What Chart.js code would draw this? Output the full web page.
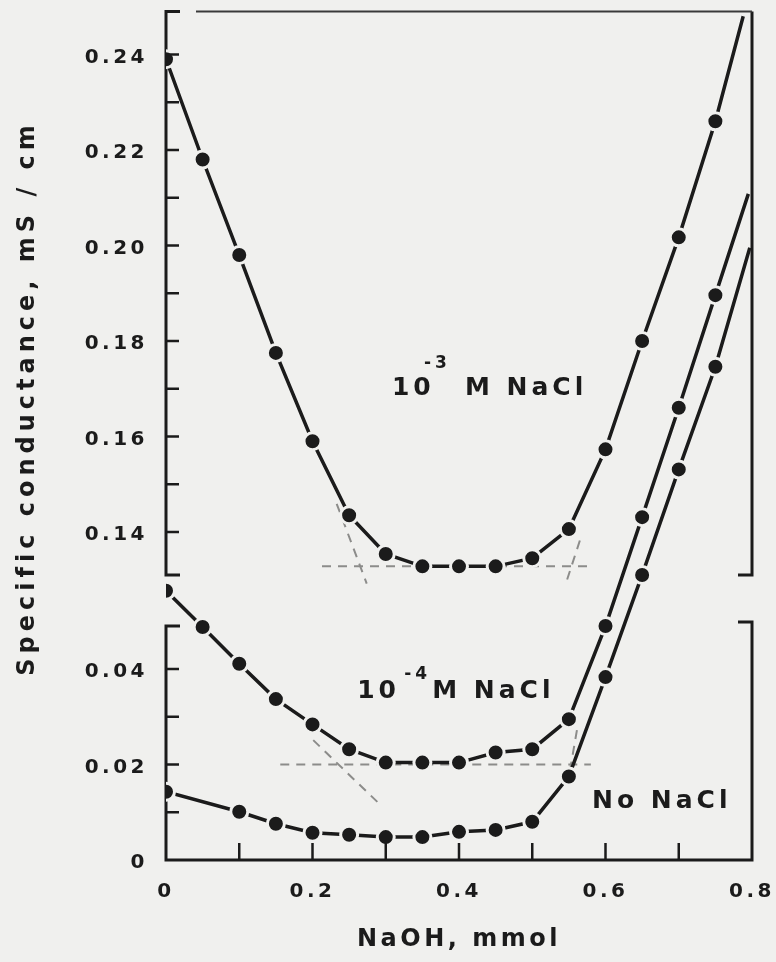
<!DOCTYPE html>
<html>
<head>
<meta charset="utf-8">
<script src="https://cdn.jsdelivr.net/npm/chart.js@4.4.1/dist/chart.umd.min.js"></script>
<style>
  html, body { margin: 0; padding: 0; background: #f0f0ee; }
  #wrap { width: 776px; height: 962px; }
</style>
</head>
<body>
<div id="wrap"><canvas id="cond"></canvas></div>
<script>
// NaOH added, mmol
const naoh = [0, 0.05, 0.10, 0.15, 0.20, 0.25, 0.30, 0.35, 0.40, 0.45, 0.50, 0.55, 0.60, 0.65, 0.70, 0.75];

// specific conductance, mS/cm
const nacl1e3 = [0.239, 0.218, 0.198, 0.1775, 0.159, 0.1435, 0.1354, 0.1328, 0.1328, 0.1328, 0.1345, 0.1406, 0.1573, 0.180, 0.2017, 0.226];
const nacl1e4 = [0.0564, 0.0488, 0.0411, 0.0337, 0.0284, 0.0232, 0.0204, 0.0204, 0.0204, 0.0225, 0.0232, 0.0295, 0.049, 0.1431, 0.166, 0.1896];
const noNacl  = [0.0143, null, 0.0101, 0.0076, 0.0057, 0.0053, 0.0048, 0.0048, 0.0059, 0.0063, 0.008, 0.0175, 0.0383, 0.131, 0.1531, 0.1746];

// rising branches run on to the right edge
const tailX = [0.788, 0.795, 0.797];
const tailY = [0.248, 0.2108, 0.1995];

// dashed extrapolations (plateau, falling and rising branches)
const guideX = [[0.213, 0.579], [0.233, 0.274], [0.565, 0.545], [0.156, 0.58], [0.201, 0.289], [0.561, 0.552]];
const guideY = [[0.1328, 0.1328], [0.1459, 0.1292], [0.1382, 0.1288], [0.020, 0.020], [0.0251, 0.0121], [0.0272, 0.0192]];

// axis ticks
const xTicks = [0, 0.1, 0.2, 0.3, 0.4, 0.5, 0.6, 0.7, 0.8];
const xLabeled = [0, 0.2, 0.4, 0.6, 0.8];
const yTicks = [0, 0.01, 0.02, 0.03, 0.04, 0.14, 0.15, 0.16, 0.17, 0.18, 0.19, 0.20, 0.21, 0.22, 0.23, 0.24];
const yLabeled = [0, 0.02, 0.04, 0.14, 0.16, 0.18, 0.20, 0.22, 0.24];

const ink = '#1b1b1b';
const paper = '#f0f0ee';
const font = 'DejaVu Sans';

// y axis is broken: lower panel up to yLowEnd, upper panel shifted down by yShift
const yLowEnd = 0.057;
const yShift = 0.0713;
const yMax = 0.249;
const squeeze = v => (v <= yLowEnd ? v : Math.max(yLowEnd, v - yShift));
const unsqueeze = u => (u <= yLowEnd ? u : u + yShift);

class BrokenScale extends Chart.LinearScale {
  getPixelForValue(value) {
    const lo = squeeze(this.min), hi = squeeze(this.max);
    return this.getPixelForDecimal((squeeze(value) - lo) / (hi - lo));
  }
  getValueForPixel(pixel) {
    const lo = squeeze(this.min), hi = squeeze(this.max);
    return unsqueeze(lo + this.getDecimalForPixel(pixel) * (hi - lo));
  }
}
BrokenScale.id = 'broken';
BrokenScale.defaults = Chart.LinearScale.defaults;
Chart.register(BrokenScale);

function series(label, ys, k) {
  const pts = naoh.map((x, i) => ({ x, y: ys[i] }));
  pts.push({ x: tailX[k], y: tailY[k] });
  return {
    label,
    data: pts,
    borderColor: ink,
    borderWidth: 3.5,
    tension: 0,
    spanGaps: true,
    pointRadius: pts.map((p, i) => (i === pts.length - 1 ? 0 : 8.5)),
    pointBackgroundColor: ink,
    pointBorderColor: paper,
    pointBorderWidth: 3,
    order: 0
  };
}

const guides = guideX.map((xs, i) => ({
  label: 'guide' + i,
  data: xs.map((x, j) => ({ x, y: guideY[i][j] })),
  borderColor: '#8c8c8a',
  borderWidth: 2,
  borderDash: [9, 7],
  pointRadius: 0,
  order: 1
}));

// axis frame drawn as two bracketed panels, ticks pointing inward
const frame = {
  id: 'frame',
  beforeDraw(chart) {
    chart.ctx.letterSpacing = '3.5px';
  },
  beforeDatasetsDraw(chart) {
    const { ctx, scales: { x, y } } = chart;
    const x0 = x.getPixelForValue(0), x1 = x.getPixelForValue(0.8);
    const yb = y.getPixelForValue(0), yl = y.getPixelForValue(0.049);
    const yh = y.getPixelForValue(0.131), yt = y.getPixelForValue(yMax);
    ctx.save();
    ctx.strokeStyle = ink;
    ctx.lineWidth = 3;
    ctx.lineJoin = 'miter';
    ctx.beginPath();
    ctx.moveTo(x0 + 14, yl); ctx.lineTo(x0, yl); ctx.lineTo(x0, yb);
    ctx.lineTo(x1, yb); ctx.lineTo(x1, yl - 4); ctx.lineTo(x1 - 14, yl - 4);
    ctx.moveTo(x0 + 14, yh); ctx.lineTo(x0, yh); ctx.lineTo(x0, yt); ctx.lineTo(x0 + 14, yt);
    ctx.moveTo(x1, yt); ctx.lineTo(x1, yh); ctx.lineTo(x1 - 14, yh);
    ctx.stroke();
    ctx.lineWidth = 2;
    ctx.strokeStyle = '#3a3a3a';
    ctx.beginPath();
    ctx.moveTo(x0 + 30, yt); ctx.lineTo(x1, yt);
    ctx.stroke();
    ctx.restore();
  },
  afterDatasetsDraw(chart) {
    const { ctx, scales: { x, y } } = chart;
    const x0 = x.getPixelForValue(0), yb = y.getPixelForValue(0);
    ctx.save();
    ctx.strokeStyle = ink;
    ctx.lineWidth = 2.5;
    ctx.beginPath();
    y.ticks.forEach(t => {
      if (t.value === 0) return;
      const py = y.getPixelForValue(t.value);
      ctx.moveTo(x0, py); ctx.lineTo(x0 + 13, py);
    });
    x.ticks.forEach(t => {
      if (t.value === 0 || t.value === 0.8) return;
      const px = x.getPixelForValue(t.value);
      ctx.moveTo(px, yb); ctx.lineTo(px, yb - 17);
    });
    ctx.stroke();
    ctx.restore();
  }
};

// curve labels and the vertical axis title
const notes = {
  id: 'notes',
  afterDraw(chart) {
    const { ctx, scales: { x, y } } = chart;
    ctx.save();
    ctx.fillStyle = ink;
    ctx.textAlign = 'left';
    ctx.textBaseline = 'alphabetic';
    ctx.letterSpacing = '4px';

    const big = `bold 25px "${font}"`, small = `bold 17px "${font}"`;
    const tagged = [
      { x: 0.3085, y: 0.1687, sup: '-3', supDx: 32, supDy: -27, restDx: 73 },
      { x: 0.2610, y: 0.0339, sup: '-4', supDx: 47, supDy: -19, restDx: 75 }
    ];
    tagged.forEach(n => {
      const px = x.getPixelForValue(n.x), py = y.getPixelForValue(n.y);
      ctx.font = big;
      ctx.fillText('10', px, py);
      ctx.fillText('M NaCl', px + n.restDx, py);
      ctx.font = small;
      ctx.fillText(n.sup, px + n.supDx, py + n.supDy);
    });
    ctx.font = big;
    ctx.fillText('No NaCl', x.getPixelForValue(0.5816), y.getPixelForValue(0.0109));

    ctx.font = `bold 24px "${font}"`;
    ctx.letterSpacing = '5px';
    ctx.textAlign = 'center';
    ctx.translate(34, 398);
    ctx.rotate(-Math.PI / 2);
    ctx.fillText('Specific conductance, mS / cm', 0, 0);
    ctx.restore();
  }
};

new Chart(document.getElementById('cond'), {
  type: 'line',
  data: {
    datasets: [
      series('10^-3 M NaCl', nacl1e3, 0),
      series('10^-4 M NaCl', nacl1e4, 1),
      series('No NaCl', noNacl, 2),
      ...guides
    ]
  },
  options: {
    responsive: true,
    maintainAspectRatio: false,
    animation: false,
    devicePixelRatio: 1,
    layout: { padding: { left: 0, right: 24, top: 10, bottom: 0 } },
    plugins: { legend: { display: false }, tooltip: { enabled: false } },
    scales: {
      x: {
        type: 'linear',
        min: 0,
        max: 0.8,
        grid: { display: false, drawTicks: false },
        border: { display: false },
        afterBuildTicks: s => { s.ticks = xTicks.map(v => ({ value: v })); },
        afterFit: s => {
          s.height = 102;
          s.paddingLeft = 0;
          s.paddingRight = 0;
        },
        ticks: {
          autoSkip: false,
          maxRotation: 0,
          padding: 20,
          color: ink,
          font: { family: font, size: 20, weight: 'bold' },
          callback: v => (xLabeled.includes(v) ? (v === 0 ? '0' : v.toFixed(1)) : '')
        },
        title: {
          display: true,
          text: 'NaOH, mmol',
          color: ink,
          font: { family: font, size: 24, weight: 'bold' },
          padding: { top: 0, bottom: 8 }
        }
      },
      y: {
        type: 'broken',
        min: 0,
        max: yMax,
        grid: { display: false, drawTicks: false },
        border: { display: false },
        afterBuildTicks: s => { s.ticks = yTicks.map(v => ({ value: v })); },
        afterFit: s => {
          s.width = 166;
          s.paddingTop = 0;
          s.paddingBottom = 0;
        },
        ticks: {
          autoSkip: false,
          padding: 18,
          labelOffset: 3,
          color: ink,
          font: { family: font, size: 20, weight: 'bold' },
          callback: v => (yLabeled.includes(v) ? (v === 0 ? '0' : v.toFixed(2)) : '')
        }
      }
    }
  },
  plugins: [frame, notes]
});
</script>
</body>
</html>
